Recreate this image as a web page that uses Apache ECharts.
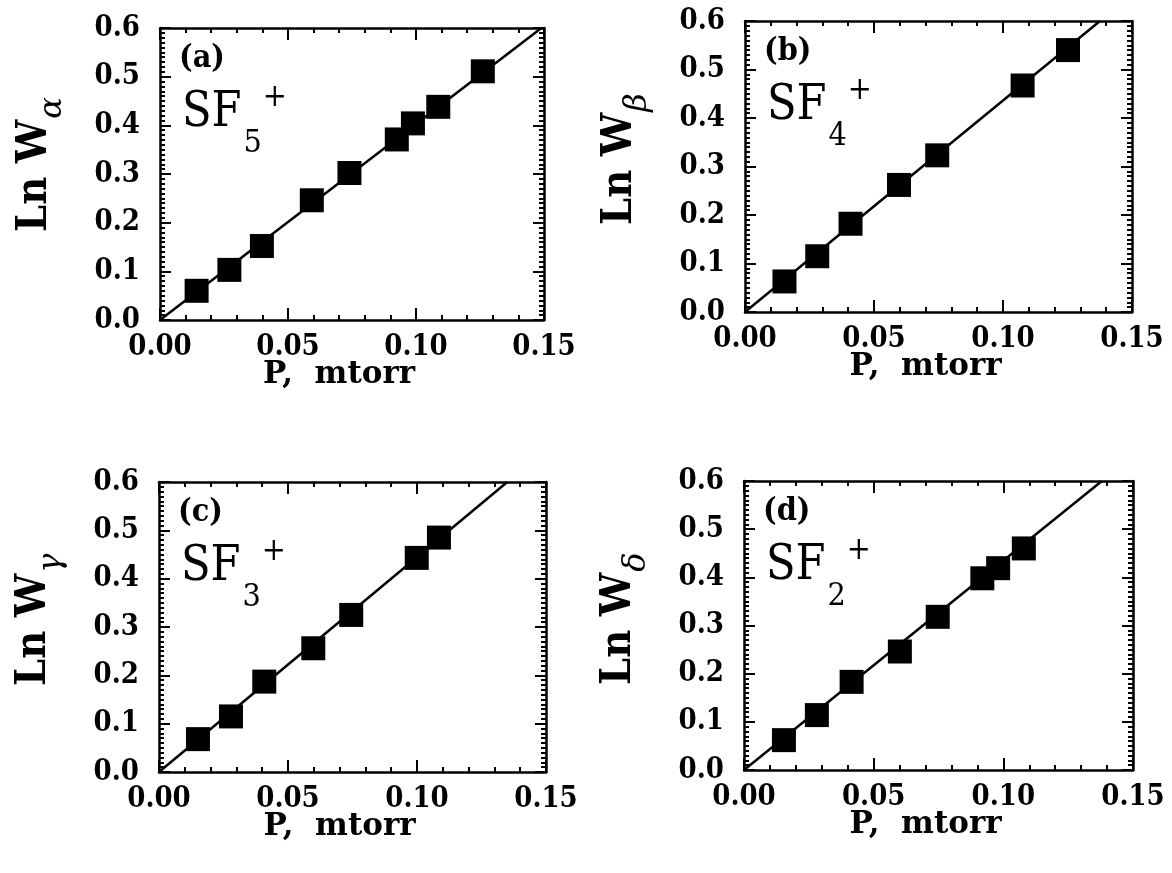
<!DOCTYPE html>
<html><head><meta charset="utf-8">
<script src="https://cdn.jsdelivr.net/npm/echarts@6/dist/echarts.min.js"></script>
<style>html,body{margin:0;padding:0;background:#fff}#c{width:1172px;height:873px}</style>
</head><body><div id="c"></div>
<script>
// ---- data ----
const xTickLabels = ['0.00', '0.05', '0.10', '0.15'];
const yTickLabels = ['0.0', '0.1', '0.2', '0.3', '0.4', '0.5', '0.6'];

const pA = [0.0143, 0.0271, 0.0398, 0.0593, 0.0740, 0.0925, 0.0988, 0.1087, 0.1261];
const wA = [0.060, 0.103, 0.152, 0.246, 0.302, 0.371, 0.404, 0.438, 0.511];
const fitA = [[0, 0], [0.149, 0.6]];

const pB = [0.0153, 0.0280, 0.0409, 0.0597, 0.0745, 0.1076, 0.1252];
const wB = [0.063, 0.115, 0.182, 0.262, 0.323, 0.467, 0.540];
const fitB = [[0, 0], [0.1376, 0.6]];

const pC = [0.0151, 0.0279, 0.0408, 0.0598, 0.0745, 0.0999, 0.1085];
const wC = [0.068, 0.115, 0.187, 0.256, 0.325, 0.443, 0.485];
const fitC = [[0, 0], [0.135, 0.6]];

const pD = [0.0154, 0.0281, 0.0415, 0.0601, 0.0747, 0.0919, 0.0980, 0.1079];
const wD = [0.062, 0.114, 0.183, 0.246, 0.318, 0.398, 0.419, 0.460];
const fitD = [[0, 0], [0.138, 0.6]];

const panelTags = ['(a)', '(b)', '(c)', '(d)'];
const ionSubs = ['5', '4', '3', '2'];
const wSubs = ['α', 'β', 'γ', 'δ'];
const xName = 'P,  mtorr';

// ---- layout ----
const grids = [
  {left: 160, top: 28, width: 384, height: 292},
  {left: 745, top: 21, width: 387, height: 291},
  {left: 159, top: 482, width: 387, height: 290},
  {left: 744, top: 481, width: 389, height: 289}
];
const panels = [
  {p: pA, w: wA, fit: fitA},
  {p: pB, w: wB, fit: fitB},
  {p: pC, w: wC, fit: fitC},
  {p: pD, w: wD, fit: fitD}
];

const FF = '"DejaVu Serif Condensed", "DejaVu Serif", serif';
const FF2 = '"DejaVu Serif", serif';
const BLK = '#000';

const mctx = document.createElement('canvas').getContext('2d');
function tw(text, font) { mctx.font = font; return mctx.measureText(text).width; }

const xAxes = [], yAxes = [], series = [], graphics = [];

function axisCommon(showLabel, fmt, isX) {
  return {
    type: 'value',
    axisLine: {show: true, onZero: false, lineStyle: {color: BLK, width: 2.5}},
    axisTick: {show: true, inside: true, length: isX ? 12 : 11, lineStyle: {color: BLK, width: 2}},
    minorTick: {show: true, splitNumber: isX ? 5 : 10, length: 5, lineStyle: {color: BLK, width: 2}},
    splitLine: {show: false},
    minorSplitLine: {show: false},
    axisLabel: {
      show: showLabel,
      formatter: fmt,
      fontFamily: FF, fontWeight: 'bold', fontSize: 29, color: BLK,
      margin: isX ? 13 : 20
    }
  };
}

grids.forEach((g, i) => {
  const xf = v => xTickLabels[Math.round(v / 0.05)];
  const yf = v => yTickLabels[Math.round(v / 0.1)];
  xAxes.push(Object.assign(axisCommon(true, xf, true), {gridIndex: i, position: 'bottom', min: 0, max: 0.15, interval: 0.05}));
  xAxes.push(Object.assign(axisCommon(false, xf, true), {gridIndex: i, position: 'top', min: 0, max: 0.15, interval: 0.05}));
  yAxes.push(Object.assign(axisCommon(true, yf, false), {gridIndex: i, position: 'left', min: 0, max: 0.6, interval: 0.1}));
  yAxes.push(Object.assign(axisCommon(false, yf, false), {gridIndex: i, position: 'right', min: 0, max: 0.6, interval: 0.1}));

  const pn = panels[i];
  series.push({
    type: 'line', xAxisIndex: 2 * i, yAxisIndex: 2 * i,
    data: pn.fit, symbol: 'none', silent: true,
    lineStyle: {color: BLK, width: 2.5}, z: 2
  });
  series.push({
    type: 'scatter', xAxisIndex: 2 * i, yAxisIndex: 2 * i,
    data: pn.p.map((x, k) => [x, pn.w[k]]),
    symbol: 'rect', symbolSize: 24,
    itemStyle: {color: BLK, opacity: 1}, z: 3
  });

  const gl = g.left, gt = g.top, gb = g.top + g.height;
  function txt(x, y, text, font, align, rot) {
    return {
      type: 'text', x: x, y: y, rotation: rot || 0, z: 10,
      style: {text: text, font: font, fill: BLK,
        textAlign: align, textVerticalAlign: 'middle', align: align, verticalAlign: 'middle'}
    };
  }
  // panel tag
  graphics.push(txt(gl + 19, gt + 31, panelTags[i], 'bold 32px ' + FF, 'left'));
  // ion label SF_n^+
  const sfFont = '48px ' + FF;
  const subFont = '32px ' + FF;
  const sfW = tw('SF', sfFont);
  const subX = gl + 23 + sfW + 1;
  graphics.push(txt(gl + 22, gt + 86, 'SF', sfFont, 'left'));
  graphics.push(txt(subX, gt + 116, ionSubs[i], subFont, 'left'));
  graphics.push(txt(subX + tw(ionSubs[i], subFont) + 1, gt + 70, '+', subFont, 'left'));
  // y axis name Ln W_sub (rotated)
  const yFont = 'bold 43px ' + FF;
  const lnW = tw('Ln W', yFont);
  graphics.push(txt(gl - 125, gt + 204, 'Ln W', yFont, 'left', Math.PI / 2));
  graphics.push(txt(gl - 107, gt + 204 - lnW - 1, wSubs[i], 'italic 32px ' + FF2, 'left', Math.PI / 2));
  // x axis name
  graphics.push(txt(gl + g.width / 2 - 13, gb + 55, xName, 'bold 31px ' + FF2, 'center'));
});

const chart = echarts.init(document.getElementById('c'), null, {renderer: 'canvas'});
chart.setOption({
  backgroundColor: '#fff',
  animation: false,
  grid: grids.map(g => Object.assign({containLabel: false}, g)),
  xAxis: xAxes,
  yAxis: yAxes,
  series: series,
  graphic: {elements: graphics}
});
</script>
</body></html>
